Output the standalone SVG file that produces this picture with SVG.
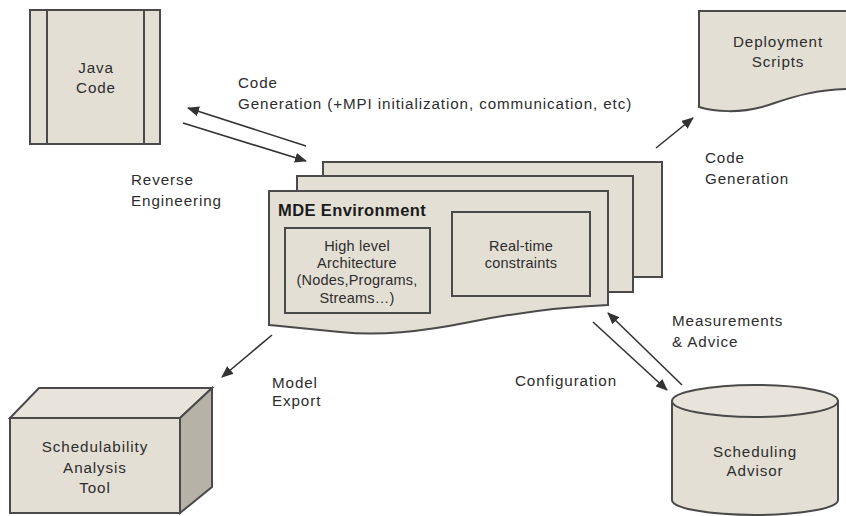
<svg xmlns="http://www.w3.org/2000/svg" width="846" height="516" viewBox="0 0 846 516">
  <defs>
    <style>
      .shape { fill: #e4dfd4; stroke: #4a4a4a; stroke-width: 2; stroke-linejoin: miter; }
      .side { fill: #b7b2a8; stroke: #4a4a4a; stroke-width: 2; }
      .top { fill: #e8e4dc; stroke: #4a4a4a; stroke-width: 2; }
      .line { fill: none; stroke: #4a4a4a; stroke-width: 2; }
      .edge { fill: none; stroke: #333333; stroke-width: 1.6; marker-end: url(#arrow); }
      text { font-family: "Liberation Sans", Arial, sans-serif; font-size: 15.2px; letter-spacing: 0.9px; fill: #2d2d2d; }
      .c { text-anchor: middle; }
      .small { font-size: 14.5px; letter-spacing: 0.2px; }
      .bold { font-weight: bold; font-size: 16.5px; letter-spacing: 0.4px; fill: #1a1a1a; }
    </style>
    <marker id="arrow" viewBox="0 0 12 10" refX="11" refY="5" markerWidth="12" markerHeight="10" markerUnits="userSpaceOnUse" orient="auto">
      <path d="M0,0 L12,5 L0,10 Z" fill="#333333"/>
    </marker>
  </defs>
  <rect width="846" height="516" fill="#ffffff"/>

  <!-- Java source file -->
  <g id="java-code">
    <rect class="shape" x="30" y="10" width="130" height="134"/>
    <line class="line" x1="47" y1="10" x2="47" y2="144"/>
    <line class="line" x1="144" y1="10" x2="144" y2="144"/>
    <text class="c" x="96" y="73">Java</text>
    <text class="c" x="96" y="93">Code</text>
  </g>

  <!-- Deployment scripts document (runs off the right edge) -->
  <g id="deployment-scripts">
    <path class="shape" d="M699,11 L852,11 L852,89 C810,89 785,100 762,107 C740,113 715,112 699,107 Z"/>
    <text class="c" x="778" y="47">Deployment</text>
    <text class="c" x="778" y="67">Scripts</text>
  </g>

  <!-- MDE environment: stacked documents -->
  <g id="mde-environment">
    <rect class="shape" x="323" y="162" width="339" height="115"/>
    <rect class="shape" x="297" y="176" width="336" height="116"/>
    <path class="shape" d="M269,191 L608,191 L608,305 C560,307 520,312 470,322 C420,332 380,336 340,332 C310,329 290,327 269,325 Z"/>
    <text class="bold" x="278" y="216">MDE Environment</text>
    <rect class="shape" x="285" y="228" width="145" height="85"/>
    <text class="c small" x="357" y="251">High level</text>
    <text class="c small" x="357" y="268">Architecture</text>
    <text class="c small" x="357" y="285">(Nodes,Programs,</text>
    <text class="c small" x="357" y="303">Streams…)</text>
    <rect class="shape" x="452" y="212" width="138" height="84"/>
    <text class="c small" x="521" y="251">Real-time</text>
    <text class="c small" x="521" y="268">constraints</text>
  </g>

  <!-- Schedulability analysis tool (3D box) -->
  <g id="schedulability-tool">
    <path class="top" d="M10,418 L39,388 L212,388 L180,418 Z"/>
    <path class="side" d="M180,418 L212,388 L212,487 L180,513 Z"/>
    <rect class="shape" x="10" y="418" width="170" height="95"/>
    <text class="c" x="95" y="452">Schedulability</text>
    <text class="c" x="95" y="473">Analysis</text>
    <text class="c" x="95" y="493">Tool</text>
  </g>

  <!-- Scheduling advisor (cylinder) -->
  <g id="scheduling-advisor">
    <path class="shape" d="M672,401 L672,500 A83,15 0 0 0 838,500 L838,401"/>
    <ellipse class="top" cx="755" cy="401" rx="83" ry="16"/>
    <text class="c" x="755" y="457">Scheduling</text>
    <text class="c" x="755" y="476">Advisor</text>
  </g>

  <!-- Connectors -->
  <g id="connectors">
    <line class="edge" x1="306" y1="146" x2="188" y2="108"/>
    <line class="edge" x1="183" y1="123" x2="306" y2="161"/>
    <line class="edge" x1="656" y1="148" x2="693" y2="118"/>
    <line class="edge" x1="272" y1="335" x2="222" y2="377"/>
    <line class="edge" x1="593" y1="322" x2="667" y2="390"/>
    <line class="edge" x1="682" y1="385" x2="608" y2="313"/>
  </g>

  <!-- Connector labels -->
  <g id="labels">
    <text x="238" y="88">Code</text>
    <text x="238" y="109">Generation (+MPI initialization, communication, etc)</text>
    <text x="131" y="185">Reverse</text>
    <text x="131" y="206">Engineering</text>
    <text x="705" y="163">Code</text>
    <text x="705" y="184">Generation</text>
    <text x="272" y="388">Model</text>
    <text x="272" y="406">Export</text>
    <text x="515" y="386">Configuration</text>
    <text x="672" y="326">Measurements</text>
    <text x="672" y="347">&amp; Advice</text>
  </g>
</svg>
